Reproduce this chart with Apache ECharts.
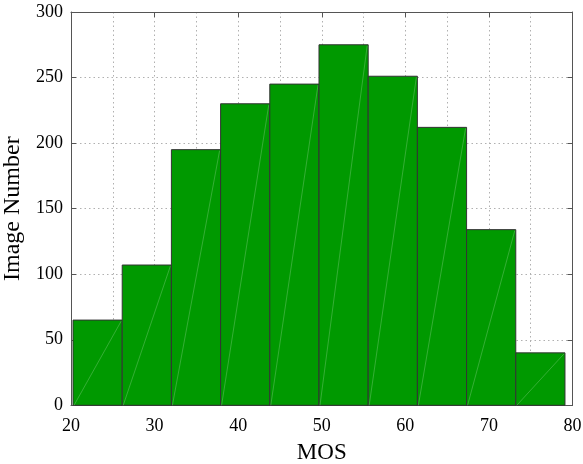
<!DOCTYPE html>
<html>
<head>
<meta charset="utf-8">
<script src="https://cdn.jsdelivr.net/npm/echarts@6/dist/echarts.min.js"></script>
<style>html,body{margin:0;padding:0;background:#fff}#c{width:583px;height:464px}</style>
</head>
<body>
<div id="c"></div>
<script>
// Histogram data
var binStart = 20.24;
var binWidth = 5.886;
var counts = [65, 107, 195, 230, 245, 275, 251, 212, 134, 40];
var xTicks = [20, 30, 40, 50, 60, 70, 80];
var yTicks = [0, 50, 100, 150, 200, 250, 300];

var barData = counts.map(function (c, i) {
  return [binStart + i * binWidth, binStart + (i + 1) * binWidth, c];
});

var font = 'Liberation Serif, Times New Roman, serif';
var axisLineStyle = { color: '#555', width: 1 };
var gridLine = { show: true, lineStyle: { color: '#b0b0b0', type: [1.5, 3], width: 1 } };

var chart = echarts.init(document.getElementById('c'), null, { renderer: 'canvas' });
chart.setOption({
  animation: false,
  backgroundColor: '#fff',
  grid: { left: 71, right: 10.5, top: 12, bottom: 58.7, containLabel: false, outerBoundsMode: 'none' },
  xAxis: [{
    type: 'value', min: xTicks[0], max: xTicks[xTicks.length - 1], interval: 10,
    name: 'MOS', nameLocation: 'middle', nameGap: 36,
    nameTextStyle: { fontFamily: font, fontSize: 23, color: '#000' },
    axisLine: { show: true, lineStyle: axisLineStyle },
    axisTick: { show: true, inside: true, length: 5, lineStyle: axisLineStyle },
    axisLabel: { fontFamily: font, fontSize: 18, color: '#000', margin: 12 },
    splitLine: gridLine,
    minorTick: { show: false, splitNumber: 2 },
    minorSplitLine: gridLine
  }, {
    type: 'value', position: 'top', min: xTicks[0], max: xTicks[xTicks.length - 1], interval: 10,
    axisLine: { show: true, onZero: false, lineStyle: axisLineStyle },
    axisTick: { show: true, inside: true, length: 5, lineStyle: axisLineStyle },
    axisLabel: { show: false }, splitLine: { show: false }
  }],
  yAxis: [{
    type: 'value', min: yTicks[0], max: yTicks[yTicks.length - 1], interval: 50,
    name: 'Image Number', nameLocation: 'middle', nameGap: 31,
    nameTextStyle: { fontFamily: font, fontSize: 24, color: '#000' },
    axisLine: { show: true, lineStyle: axisLineStyle },
    axisTick: { show: true, inside: true, length: 5, lineStyle: axisLineStyle },
    axisLabel: { fontFamily: font, fontSize: 18, color: '#000', margin: 8 },
    splitLine: gridLine
  }, {
    type: 'value', position: 'right', min: yTicks[0], max: yTicks[yTicks.length - 1], interval: 50,
    axisLine: { show: true, onZero: false, lineStyle: axisLineStyle },
    axisTick: { show: true, inside: true, length: 5, lineStyle: axisLineStyle },
    axisLabel: { show: false }, splitLine: { show: false }
  }],
  series: [{
    type: 'custom',
    xAxisIndex: 0, yAxisIndex: 0,
    data: barData,
    encode: { x: [0, 1], y: 2 },
    renderItem: function (params, api) {
      var p0 = api.coord([api.value(0), api.value(2)]);
      var p1 = api.coord([api.value(1), 0]);
      var x = p0[0], y = p0[1], w = p1[0] - p0[0], h = p1[1] - p0[1];
      return {
        type: 'group',
        children: [{
          type: 'rect',
          shape: { x: x, y: y, width: w, height: h },
          style: { fill: '#009900', stroke: '#333', lineWidth: 1 }
        }, {
          type: 'line',
          shape: { x1: x + 1, y1: y + h, x2: x + w - 1, y2: y + 1 },
          style: { stroke: 'rgba(255,255,255,0.35)', lineWidth: 0.6 }
        }]
      };
    }
  }]
});
</script>
</body>
</html>
